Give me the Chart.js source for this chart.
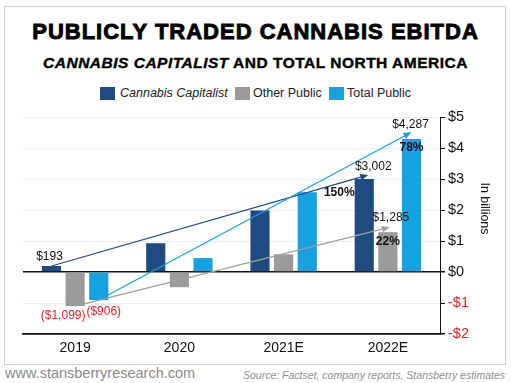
<!DOCTYPE html>
<html>
<head>
<meta charset="utf-8">
<script src="https://cdn.jsdelivr.net/npm/chart.js@4.4.0/dist/chart.umd.min.js"></script>
<style>
  html,body{margin:0;padding:0;background:#fff;}
  body{width:511px;height:383px;position:relative;overflow:hidden;font-family:"Liberation Sans",Arial,sans-serif;}
  .abs{position:absolute;white-space:nowrap;}
  #frame{left:4px;top:6px;width:500px;height:357px;border:1px solid #cfcfcf;}
  #title{left:0;width:511px;top:21px;text-align:center;font-weight:bold;font-size:22px;line-height:22px;color:#000;-webkit-text-stroke:0.9px #000;letter-spacing:1px;}
  #subtitle{left:0;width:511px;top:55px;text-align:center;font-weight:bold;font-size:15.5px;line-height:15.5px;color:#000;-webkit-text-stroke:0.4px #000;letter-spacing:0.5px;}
  .sw{width:15px;height:13px;top:87px;}
  .lt{top:86px;font-size:12.5px;line-height:15px;color:#222;}
  #c{left:0;top:100px;}
  #url{left:5px;top:365px;font-size:14.5px;line-height:16px;color:#8a8a8a;}
  #src{right:6px;top:369px;font-size:10.5px;line-height:12px;color:#8f8f8f;font-style:italic;}
</style>
</head>
<body>
<div id="frame" class="abs"></div>
<div id="title" class="abs">PUBLICLY TRADED CANNABIS EBITDA</div>
<div id="subtitle" class="abs"><i>CANNABIS CAPITALIST</i> AND TOTAL NORTH AMERICA</div>
<div class="abs sw" style="left:100px;background:#1f4b80"></div>
<div class="abs lt" style="left:120px;font-style:italic">Cannabis Capitalist</div>
<div class="abs sw" style="left:235px;background:#9b9b9b"></div>
<div class="abs lt" style="left:253px">Other Public</div>
<div class="abs sw" style="left:329px;background:#17a1e0"></div>
<div class="abs lt" style="left:347px">Total Public</div>
<canvas id="c" class="abs" width="511" height="265"></canvas>
<div id="url" class="abs">www.stansberryresearch.com</div>
<div id="src" class="abs">Source: Factset, company reports, Stansberry estimates</div>
<script>
// ---- data (in billions USD) ----
const categories = ['2019', '2020', '2021E', '2022E'];
const cannabisCapitalist = [0.193, 0.93, 1.98, 3.002];
const otherPublic = [-1.099, -0.49, 0.57, 1.285];
const totalPublic = [-0.906, 0.45, 2.57, 4.287];
const yTickValues = [-2, -1, 0, 1, 2, 3, 4, 5];
const pctLabels = ['150%', '78%', '22%'];

const NAVY = '#1f4b80', GRAY = '#9b9b9b', BLUE = '#17a1e0', RED = '#e0222a';

function fmtMoney(v) {
  const s = '$' + Math.round(Math.abs(v) * 1000).toLocaleString('en-US');
  return v < 0 ? '(' + s + ')' : s;
}

const overlay = {
  id: 'overlay',
  afterDatasetsDraw(chart) {
    const ctx = chart.ctx;
    const el = (d, i) => chart.getDatasetMeta(d).data[i];
    const last = categories.length - 1;
    const trends = [
      {ds: 0, color: NAVY, dx: 4, dy: 4},
      {ds: 1, color: '#a0a0a0', dx: 2, dy: 5},
      {ds: 2, color: BLUE, dx: 0, dy: 7}
    ];
    ctx.save();
    trends.forEach(t => {
      const a = el(t.ds, 0), b = el(t.ds, last);
      const x0 = a.x, y0 = a.y, x1 = b.x + t.dx, y1 = b.y - t.dy;
      const ang = Math.atan2(y1 - y0, x1 - x0);
      const L = 8, W = 3.2;
      ctx.strokeStyle = t.color; ctx.fillStyle = t.color; ctx.lineWidth = 1.2;
      ctx.beginPath();
      ctx.moveTo(x0, y0);
      ctx.lineTo(x1 - Math.cos(ang) * (L - 1), y1 - Math.sin(ang) * (L - 1));
      ctx.stroke();
      ctx.beginPath();
      ctx.moveTo(x1, y1);
      ctx.lineTo(x1 - L * Math.cos(ang) + W * Math.sin(ang), y1 - L * Math.sin(ang) - W * Math.cos(ang));
      ctx.lineTo(x1 - L * Math.cos(ang) - W * Math.sin(ang), y1 - L * Math.sin(ang) + W * Math.cos(ang));
      ctx.closePath();
      ctx.fill();
    });
    const series = [cannabisCapitalist, otherPublic, totalPublic];
    const labels = [
      {ds: 0, i: 0, dx: -2, dy: -9},
      {ds: 1, i: 0, dx: -12, dy: 10},
      {ds: 2, i: 0, dx: 5, dy: 12},
      {ds: 0, i: last, dx: 9, dy: -12},
      {ds: 1, i: last, dx: 3, dy: -14},
      {ds: 2, i: last, dx: -1, dy: -14}
    ];
    ctx.textAlign = 'center'; ctx.textBaseline = 'middle';
    ctx.font = '12px "Liberation Sans", Arial, sans-serif';
    labels.forEach(l => {
      const e = el(l.ds, l.i), v = series[l.ds][l.i];
      ctx.fillStyle = v < 0 ? RED : '#111';
      ctx.fillText(fmtMoney(v), e.x + l.dx, e.y + l.dy);
    });
    ctx.font = 'bold 12px "Liberation Sans", Arial, sans-serif';
    const pct = [
      {ds: 0, dx: -25, dy: 14},
      {ds: 2, dx: 0, dy: 9},
      {ds: 1, dx: 0, dy: 10}
    ];
    pct.forEach((p, k) => {
      const e = el(p.ds, last);
      ctx.fillStyle = '#111';
      ctx.fillText(pctLabels[k], e.x + p.dx, e.y + p.dy);
    });
    ctx.font = '12.5px "Liberation Sans", Arial, sans-serif';
    ctx.fillStyle = '#111';
    const ys = chart.scales.y;
    ctx.translate(ys.right - 16, (chart.chartArea.top + chart.chartArea.bottom) / 2 - 17);
    ctx.rotate(Math.PI / 2);
    ctx.fillText('In billions', 0, 0);
    ctx.restore();
  }
};

new Chart(document.getElementById('c'), {
  type: 'bar',
  data: {
    labels: categories,
    datasets: [
      {label: 'Cannabis Capitalist', data: cannabisCapitalist, backgroundColor: NAVY},
      {label: 'Other Public', data: otherPublic, backgroundColor: GRAY},
      {label: 'Total Public', data: totalPublic, backgroundColor: BLUE}
    ]
  },
  options: {
    responsive: false,
    animation: false,
    devicePixelRatio: 1,
    categoryPercentage: 0.68,
    barPercentage: 0.81,
    layout: {padding: {left: 23, right: 11, top: 17, bottom: 0}},
    plugins: {legend: {display: false}, tooltip: {enabled: false}},
    scales: {
      x: {
        grid: {display: false, drawTicks: false},
        border: {display: true, color: '#111', width: 1.5},
        ticks: {color: '#111', font: {size: 14, family: '"Liberation Sans", Arial, sans-serif'}, padding: 6},
        afterFit(s) { s.height = 31; }
      },
      y: {
        position: 'right',
        min: -2, max: 5,
        afterBuildTicks(s) { s.ticks = yTickValues.map(v => ({value: v})); },
        ticks: {
          padding: 3,
          font: {size: 14.5, family: '"Liberation Sans", Arial, sans-serif'},
          color: c => c.tick.value < 0 ? RED : '#111',
          callback: v => (v < 0 ? '-$' + (-v) : '$' + v)
        },
        grid: {
          color: c => (c.tick.value === 0 || c.tick.value === -2) ? '#111' : '#ececec',
          lineWidth: c => (c.tick.value === 0 || c.tick.value === -2) ? 1.5 : 1,
          tickColor: '#111',
          tickLength: 5
        },
        border: {display: true, color: '#111', width: 1},
        afterFit(s) { s.width = 60; }
      }
    }
  },
  plugins: [overlay]
});
</script>
</body>
</html>
